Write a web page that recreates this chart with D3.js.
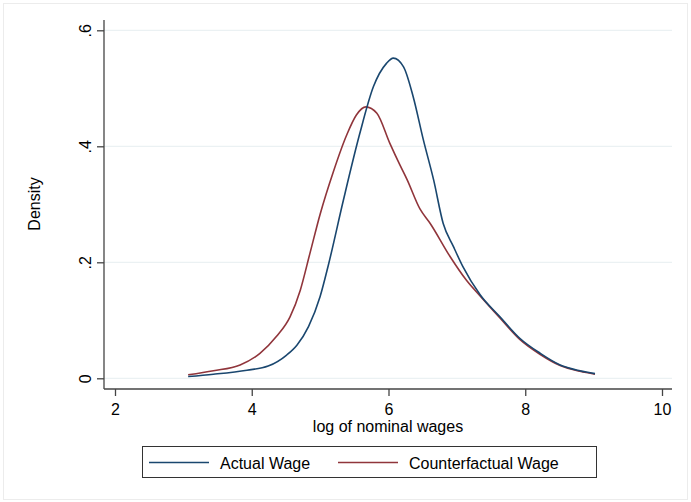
<!DOCTYPE html>
<html><head><meta charset="utf-8">
<script src="https://cdn.jsdelivr.net/npm/d3@7"></script>
<style>body{margin:0;background:#fff}svg{display:block}text{font-family:"Liberation Sans",Arial,sans-serif;fill:#000}</style>
</head><body><svg id="c" width="691" height="502"></svg>
<script>
const actualX = [3.07,3.44,3.93,4.24,4.51,4.66,4.83,5.00,5.12,5.34,5.58,5.78,5.97,6.07,6.22,6.36,6.51,6.66,6.80,6.95,7.09,7.34,7.63,7.92,8.22,8.51,8.80,9.02];
const actualY = [0.003,0.007,0.014,0.021,0.040,0.057,0.089,0.141,0.195,0.307,0.422,0.503,0.543,0.552,0.537,0.486,0.411,0.342,0.267,0.227,0.192,0.144,0.106,0.069,0.043,0.023,0.013,0.008];
const cfX = [3.07,3.44,3.83,4.12,4.36,4.56,4.71,4.85,5.00,5.19,5.39,5.53,5.67,5.83,6.02,6.17,6.27,6.46,6.61,6.90,7.14,7.34,7.63,7.92,8.22,8.51,8.80,9.02];
const cfY = [0.006,0.013,0.023,0.043,0.072,0.106,0.152,0.215,0.283,0.355,0.420,0.454,0.468,0.457,0.405,0.367,0.343,0.292,0.267,0.210,0.169,0.142,0.104,0.067,0.041,0.022,0.012,0.007];
const xTicks = [2,4,6,8,10];
const yTicks = [0,0.2,0.4,0.6];
const yTickLabels = ["0",".2",".4",".6"];
const seriesNames = ["Actual Wage","Counterfactual Wage"];
const seriesColors = ["#1a476f","#90353b"];

const svg = d3.select("#c");
svg.append("rect").attr("x",3.5).attr("y",3.5).attr("width",684).attr("height",496)
  .attr("fill","#fff").attr("stroke","#ececec");

const x = d3.scaleLinear().domain([2,10]).range([115,662]);
const y = d3.scaleLinear().domain([0,0.6]).range([378.3,30.3]);
const plotL = 104, plotR = 672, plotT = 20, plotB = 389;

svg.append("g").selectAll("line").data(yTicks).join("line")
  .attr("x1",plotL).attr("x2",plotR).attr("y1",d=>y(d)).attr("y2",d=>y(d))
  .attr("stroke","#e6eef0").attr("stroke-width",1);

const ya = svg.append("g").attr("transform",`translate(${plotL},0)`)
  .call(d3.axisLeft(y).tickValues(yTicks).tickSize(7).tickSizeOuter(0).tickFormat((d,i)=>yTickLabels[i]));
ya.select(".domain").attr("d",`M0,${plotT}V${plotB}`).attr("stroke","#444").attr("stroke-width",1.3);
ya.selectAll(".tick line").attr("stroke","#444").attr("stroke-width",1.3);
ya.selectAll(".tick text").attr("font-size",16).attr("text-anchor","middle")
  .attr("transform","rotate(-90)").attr("x",0).attr("y",-13).attr("dy",0).attr("fill","#000");

const xa = svg.append("g").attr("transform",`translate(0,${plotB})`)
  .call(d3.axisBottom(x).tickValues(xTicks).tickSize(7).tickSizeOuter(0).tickFormat(d3.format("d")));
xa.select(".domain").attr("d",`M${plotL},0H${plotR}`).attr("stroke","#444").attr("stroke-width",1.3);
xa.selectAll(".tick line").attr("stroke","#444").attr("stroke-width",1.3);
xa.selectAll(".tick text").attr("font-size",16).attr("y",26).attr("dy",0).attr("fill","#000");

const line = d3.line().x(d=>x(d[0])).y(d=>y(d[1])).curve(d3.curveMonotoneX);
const series = [d3.zip(actualX,actualY), d3.zip(cfX,cfY)];
[1,0].forEach(i=>{
  svg.append("path").datum(series[i]).attr("d",line).attr("fill","none")
    .attr("stroke",seriesColors[i]).attr("stroke-width",1.6);
});

svg.append("text").attr("x",388).attr("y",432).attr("text-anchor","middle").attr("font-size",16).text("log of nominal wages");
svg.append("text").attr("transform","translate(39.5,204) rotate(-90)").attr("text-anchor","middle").attr("font-size",16).text("Density");

const lg = svg.append("g");
lg.append("rect").attr("x",142.5).attr("y",446.5).attr("width",454).attr("height",31).attr("fill","#fff").attr("stroke","#333").attr("stroke-width",1);
const lx = [[149,209,220],[338,398,409]];
seriesNames.forEach((n,i)=>{
  lg.append("line").attr("x1",lx[i][0]).attr("x2",lx[i][1]).attr("y1",462.5).attr("y2",462.5).attr("stroke",seriesColors[i]).attr("stroke-width",1.6);
  lg.append("text").attr("x",lx[i][2]).attr("y",468.5).attr("font-size",16).text(n);
});
</script></body></html>
